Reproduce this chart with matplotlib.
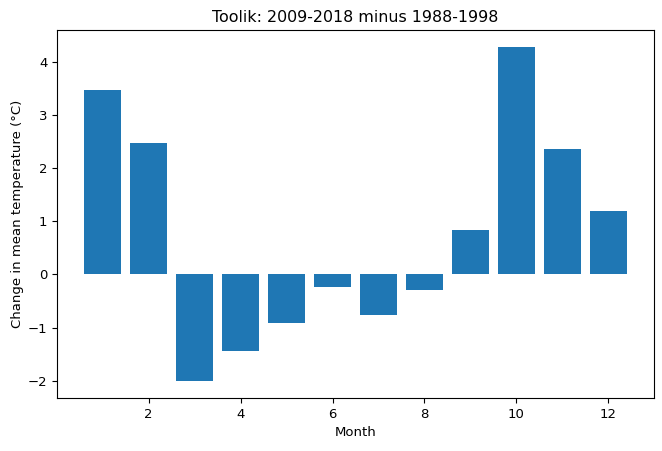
import matplotlib

matplotlib.use("Agg")
import matplotlib.pyplot as plt  # noqa: E402

months = [1, 2, 3, 4, 5, 6, 7, 8, 9, 10, 11, 12]
temp_change = [3.46, 2.47, -2.01, -1.45, -0.91, -0.24, -0.77, -0.30, 0.84, 4.28, 2.36, 1.20]

plt.rcParams["font.size"] = 9.5

fig = plt.figure(figsize=(6.62, 4.51), dpi=100)
ax = fig.add_axes([57 / 662, 53 / 451, 597 / 662, 368 / 451])
ax.bar(months, temp_change, color="#1f77b4")
ax.set_xlabel("Month")
ax.set_ylabel("Change in mean temperature (°C)", labelpad=2.5)
ax.set_title("Toolik: 2009-2018 minus 1988-1998", fontsize=11.4)

fig.savefig("out.png", dpi=100)
